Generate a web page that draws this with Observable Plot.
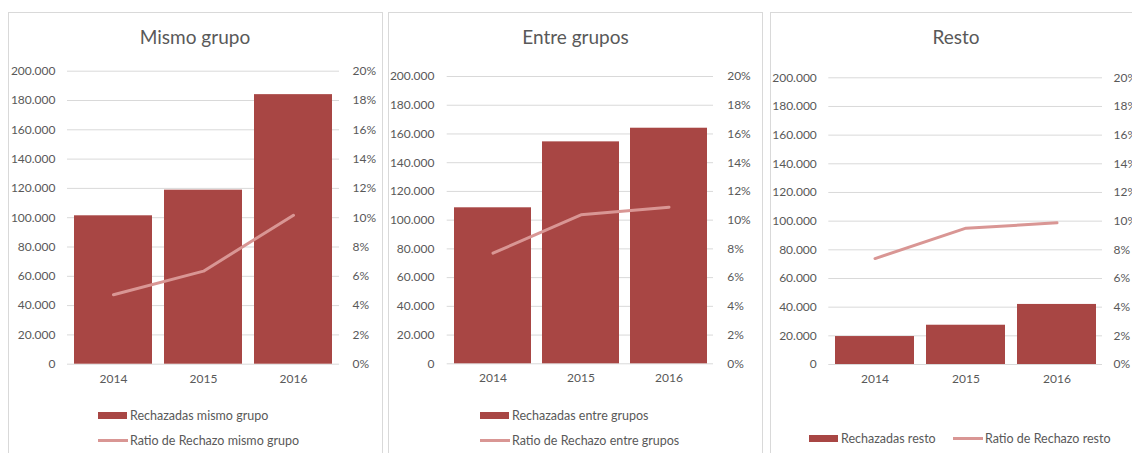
<!DOCTYPE html>
<html><head><meta charset="utf-8">
<script src="https://cdn.jsdelivr.net/npm/d3@7"></script>
<script src="https://cdn.jsdelivr.net/npm/@observablehq/plot@0.6"></script>
<style>
body{margin:0;background:#fff;width:1132px;height:453px;overflow:hidden;position:relative;font-family:Lato,"Open Sans",sans-serif;color:#595959}
.panel{position:absolute;top:12px;height:460px;border:1px solid #d9d9d9;box-sizing:border-box}
.plot{position:absolute;top:0}
.title{position:absolute;font-size:19px;line-height:20px;top:27px;transform:translateX(-50%);white-space:nowrap;color:#595959}
.leg{position:absolute;height:16px;display:flex;align-items:center;font-size:12.5px;white-space:nowrap;color:#595959}
.sw-bar{width:29px;height:7px;background:#a84644;margin-right:3px}
.sw-line{width:30px;height:3px;background:#d99694;margin-right:2px}
</style>
</head><body>
<script>
const years = ["2014", "2015", "2016"];
const titles = ["Mismo grupo", "Entre grupos", "Resto"];
const rechazadasMismo = [101300, 118800, 184000];
const ratioMismo = [4.74, 6.35, 10.17];
const rechazadasEntre = [108600, 154500, 164000];
const ratioEntre = [7.7, 10.37, 10.9];
const rechazadasResto = [19500, 27400, 41900];
const ratioResto = [7.39, 9.51, 9.88];
const barLabels = ["Rechazadas mismo grupo", "Rechazadas entre grupos", "Rechazadas resto"];
const lineLabels = ["Ratio de Rechazo mismo grupo", "Ratio de Rechazo entre grupos", "Ratio de Rechazo resto"];
const leftTicks = [0, 20000, 40000, 60000, 80000, 100000, 120000, 140000, 160000, 180000, 200000];

const BAR = "#a84644", LINE = "#d99694";
const loc = d3.formatLocale({thousands: ".", grouping: [3], decimal: ",", currency: ["", ""]});
const fmtLeft = d => d === 0 ? "0" : loc.format(",")(d);
const fmtRight = d => Math.round(d / 10000) + "%";

const series = [
  {bars: rechazadasMismo, ratio: ratioMismo},
  {bars: rechazadasEntre, ratio: ratioEntre},
  {bars: rechazadasResto, ratio: ratioResto}
];

const layout = [
  {left: 8, width: 374, pw: 375, mt: 70.7, mb: 89.3, ml: 59, mr: 43, tx: 195, padL: 12, padR: 13,
   legend: [{type: "bar", x: 98, y: 415}, {type: "line", x: 98, y: 440}]},
  {left: 388, width: 374, pw: 375, mt: 76, mb: 89.7, ml: 58.7, mr: 49, tx: 575.5, padL: 12.7, padR: 13.7,
   legend: [{type: "bar", x: 480, y: 415}, {type: "line", x: 480, y: 440}]},
  {left: 770, width: 362, pw: 380, mt: 77.3, mb: 89, ml: 58.3, mr: 30, tx: 956, padL: 12, padR: 11,
   legend: [{type: "bar", x: 809, y: 438}, {type: "line", x: 953, y: 438}]}
];

layout.forEach((L, i) => {
  const s = series[i];
  const data = years.map((y, k) => ({year: y, value: s.bars[k], ratio: s.ratio[k]}));

  const panel = document.createElement("div");
  panel.className = "panel";
  panel.style.left = L.left + "px";
  panel.style.width = L.pw + "px";
  document.body.appendChild(panel);

  const chart = Plot.plot({
    width: L.width,
    height: 453,
    marginTop: L.mt, marginBottom: L.mb, marginLeft: L.ml, marginRight: L.mr,
    style: {fontSize: "12px", fontFamily: "Lato, 'Open Sans', sans-serif", color: "#595959", background: "transparent"},
    x: {domain: years, paddingInner: 0.13, paddingOuter: 0.066},
    y: {domain: [0, 200000]},
    marks: [
      Plot.gridY(leftTicks, {stroke: "#d9d9d9", strokeOpacity: 1}),
      Plot.barY(data, {x: "year", y: "value", fill: BAR}),
      Plot.line(data, {x: "year", y: d => d.ratio * 10000, stroke: LINE, strokeWidth: 3}),
      Plot.axisY({anchor: "left", ticks: leftTicks, tickFormat: fmtLeft, tickSize: 0, tickPadding: L.padL, label: null}),
      Plot.axisY({anchor: "right", ticks: leftTicks, tickFormat: fmtRight, tickSize: 0, tickPadding: L.padR, label: null}),
      Plot.axisX({tickSize: 0, tickPadding: 10, label: null})
    ]
  });
  chart.classList.add("plot");
  chart.style.left = L.left + "px";
  chart.style.position = "absolute";
  chart.style.top = "0px";
  document.body.appendChild(chart);

  const t = document.createElement("div");
  t.className = "title";
  t.style.left = L.tx + "px";
  t.textContent = titles[i];
  document.body.appendChild(t);

  L.legend.forEach(item => {
    const d = document.createElement("div");
    d.className = "leg";
    d.style.left = item.x + "px";
    d.style.top = (item.y - 8) + "px";
    const sw = document.createElement("span");
    sw.className = item.type === "bar" ? "sw-bar" : "sw-line";
    d.appendChild(sw);
    const tx = document.createElement("span");
    tx.textContent = item.type === "bar" ? barLabels[i] : lineLabels[i];
    d.appendChild(tx);
    document.body.appendChild(d);
  });
});
</script>
</body></html>
